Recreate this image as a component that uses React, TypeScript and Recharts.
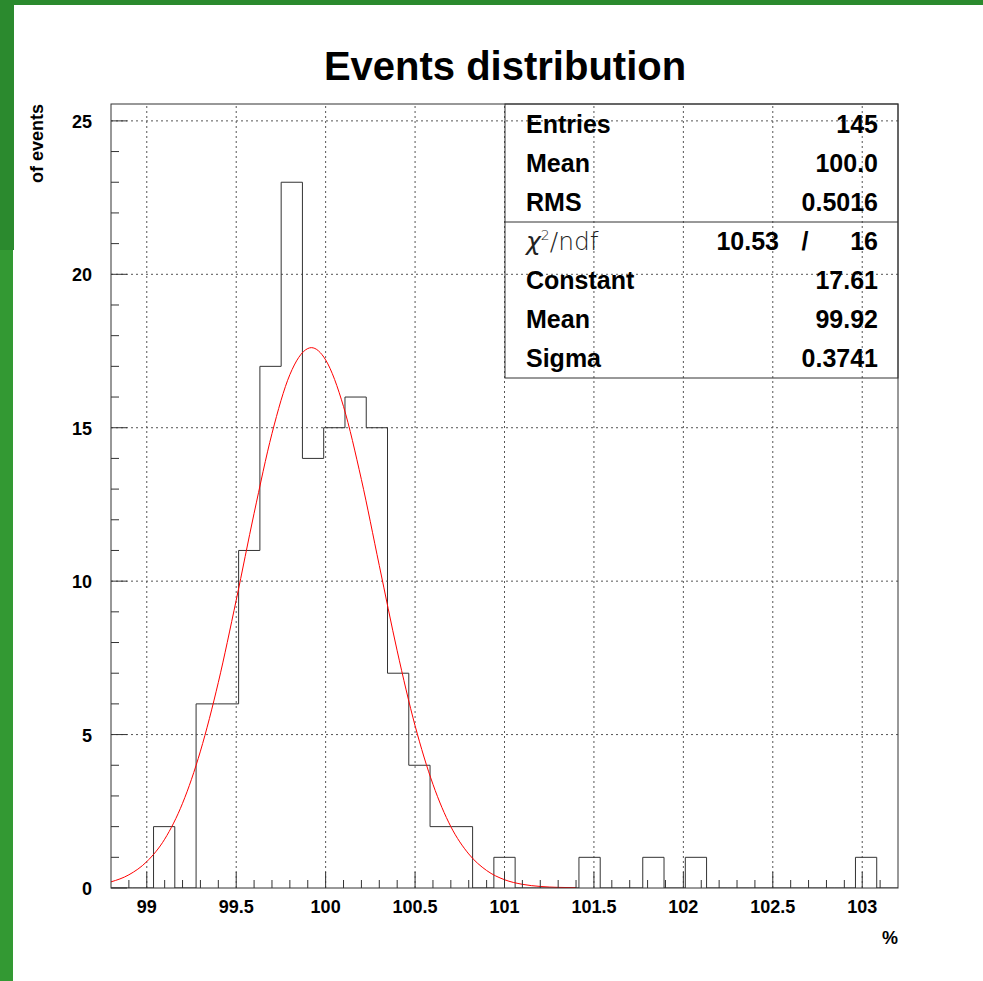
import { ComposedChart, Line, XAxis, YAxis, ReferenceLine } from "recharts";

// histogram: 37 bins between 98.8 and 103.2
const H_LOW = 98.8;
const H_HIGH = 103.2;
const COUNTS = [
  0, 0, 2, 0, 6, 6, 11, 17, 23, 14, 15, 16, 15, 7, 4, 2, 2, 0, 1, 0, 0, 0, 1, 0, 0, 1, 0, 1,
  0, 0, 0, 0, 0, 0, 0, 1, 0,
];

// gaus fit
const FIT_X = [
  98.8, 98.9, 99.0, 99.1, 99.2, 99.3, 99.4, 99.5, 99.6, 99.7, 99.8, 99.9, 99.92, 100.0, 100.1,
  100.2, 100.3, 100.4, 100.5, 100.6, 100.7, 100.8, 100.9, 101.0, 101.1, 101.2, 101.3, 101.4,
];
const FIT_Y = [
  0.2, 0.43, 0.86, 1.59, 2.76, 4.46, 6.7, 9.38, 12.21, 14.81, 16.73, 17.58, 17.61, 17.21, 15.69,
  13.31, 10.51, 7.73, 5.29, 3.38, 2.0, 1.11, 0.57, 0.27, 0.12, 0.05, 0.02, 0.01,
];

const X_MAJOR = [99, 99.5, 100, 100.5, 101, 101.5, 102, 102.5, 103];
const Y_MAJOR = [0, 5, 10, 15, 20, 25];
const X_TICKS = Array.from({ length: 43 }, (_, i) => Math.round((98.9 + i * 0.1) * 10) / 10);
const Y_TICKS = Array.from({ length: 26 }, (_, i) => i);

const STAT_TOP = ["Entries", "Mean", "RMS"];
const STAT_TOP_VALUES = ["145", "100.0", "0.5016"];
const CHI2 = "10.53";
const NDF = "16";
const STAT_FIT = ["Constant", "Mean", "Sigma"];
const STAT_FIT_VALUES = ["17.61", "99.92", "0.3741"];

const FONT = "'Liberation Sans', Arial, Helvetica, sans-serif";
const INK = "#333";

const binW = (H_HIGH - H_LOW) / COUNTS.length;
const histData = [...COUNTS, 0].map((n, k) => ({ x: H_LOW + k * binW, n }));
const fitData = FIT_X.map((x, i) => ({ x, f: FIT_Y[i] }));

const isMajorX = (v: number) => X_MAJOR.some((m) => Math.abs(m - v) < 1e-6);

function XTick(props: any) {
  const { x, y, payload } = props;
  const major = isMajorX(payload.value);
  return (
    <g>
      <line x1={x} x2={x} y1={y} y2={y - (major ? 16 : 8)} stroke={INK} />
      {major && (
        <text x={x} y={y + 25} textAnchor="middle" fontFamily={FONT} fontWeight="bold" fontSize={18} fill="#000">
          {payload.value}
        </text>
      )}
    </g>
  );
}

function YTick(props: any) {
  const { x, y, payload } = props;
  const major = Y_MAJOR.includes(payload.value);
  return (
    <g>
      <line x1={x} x2={x + (major ? 16 : 8)} y1={y} y2={y} stroke={INK} />
      {major && (
        <text x={x - 19} y={y + 7} textAnchor="end" fontFamily={FONT} fontWeight="bold" fontSize={18} fill="#000">
          {payload.value}
        </text>
      )}
    </g>
  );
}

export default function App() {
  const rowY = (i: number) => 133 + i * 39;
  return (
    <div style={{ position: "absolute", left: 0, top: 0, width: 983, height: 981, background: "#fff" }}>
      <div style={{ position: "absolute", left: 0, top: 0, width: 983, height: 5, background: "#2b8a2e" }} />
      <div style={{ position: "absolute", left: 0, top: 0, width: 14, height: 250, background: "#2b8a2e" }} />
      <div style={{ position: "absolute", left: 0, top: 250, width: 13, height: 731, background: "#339933" }} />

      <div style={{ position: "absolute", left: 0, top: 0 }}>
        <ComposedChart width={983} height={981} margin={{ top: 104, right: 85, bottom: 63, left: 71 }}>
          <XAxis
            dataKey="x"
            type="number"
            domain={[H_LOW, H_HIGH]}
            allowDataOverflow
            ticks={X_TICKS}
            interval={0}
            height={30}
            tickSize={0}
            tickMargin={0}
            axisLine={false}
            tickLine={false}
            tick={<XTick />}
          />
          <YAxis
            type="number"
            domain={[0, 25.55]}
            allowDataOverflow
            ticks={Y_TICKS}
            interval={0}
            width={40}
            tickSize={0}
            tickMargin={0}
            axisLine={false}
            tickLine={false}
            tick={<YTick />}
          />
          {X_MAJOR.map((v) => (
            <ReferenceLine key={"gx" + v} x={v} stroke="#555" strokeDasharray="2 3" />
          ))}
          {Y_MAJOR.filter((v) => v > 0).map((v) => (
            <ReferenceLine key={"gy" + v} y={v} stroke="#555" strokeDasharray="2 3" />
          ))}
          <Line
            data={histData}
            dataKey="n"
            type="stepAfter"
            stroke={INK}
            strokeWidth={1}
            dot={false}
            activeDot={false}
            isAnimationActive={false}
          />
          <Line
            data={fitData}
            dataKey="f"
            type="monotone"
            stroke="#ff0000"
            strokeWidth={1}
            dot={false}
            activeDot={false}
            isAnimationActive={false}
          />
        </ComposedChart>
      </div>

      <svg width={983} height={981} style={{ position: "absolute", left: 0, top: 0, pointerEvents: "none" }}>
        <rect x={111} y={104} width={787} height={784} fill="none" stroke={INK} />
        <text x={505} y={80} textAnchor="middle" fontFamily={FONT} fontWeight="bold" fontSize={40} fill="#000">
          Events distribution
        </text>
        <text
          transform="translate(43,104) rotate(-90)"
          textAnchor="end"
          fontFamily={FONT}
          fontWeight="bold"
          fontSize={18}
          fill="#000"
        >
          of events
        </text>
        <text x={898} y={944} textAnchor="end" fontFamily={FONT} fontWeight="bold" fontSize={18} fill="#000">
          %
        </text>

        {/* stats box */}
        <rect x={505} y={104} width={393} height={274} fill="none" stroke={INK} />
        <line x1={505} x2={898} y1={222} y2={222} stroke={INK} />
        <g fontFamily={FONT} fontWeight="bold" fontSize={25} fill="#000">
          {STAT_TOP.map((s, i) => (
            <g key={"t" + i}>
              <text x={526} y={rowY(i)}>{s}</text>
              <text x={878} y={rowY(i)} textAnchor="end">{STAT_TOP_VALUES[i]}</text>
            </g>
          ))}
          <text x={779} y={rowY(3)} textAnchor="end">{CHI2}</text>
          <text x={805} y={rowY(3)} textAnchor="middle">/</text>
          <text x={878} y={rowY(3)} textAnchor="end">{NDF}</text>
          {STAT_FIT.map((s, i) => (
            <g key={"f" + i}>
              <text x={526} y={rowY(i + 4)}>{s}</text>
              <text x={878} y={rowY(i + 4)} textAnchor="end">{STAT_FIT_VALUES[i]}</text>
            </g>
          ))}
        </g>
        <text x={526} y={rowY(3)} fontFamily="'DejaVu Sans', sans-serif" fontWeight={200} fontSize={25} fill="#222">
          <tspan fontStyle="italic">χ</tspan>
          <tspan dy={-10} fontSize={14}>2</tspan>
          <tspan dy={10}>/ndf</tspan>
        </text>
      </svg>
    </div>
  );
}
